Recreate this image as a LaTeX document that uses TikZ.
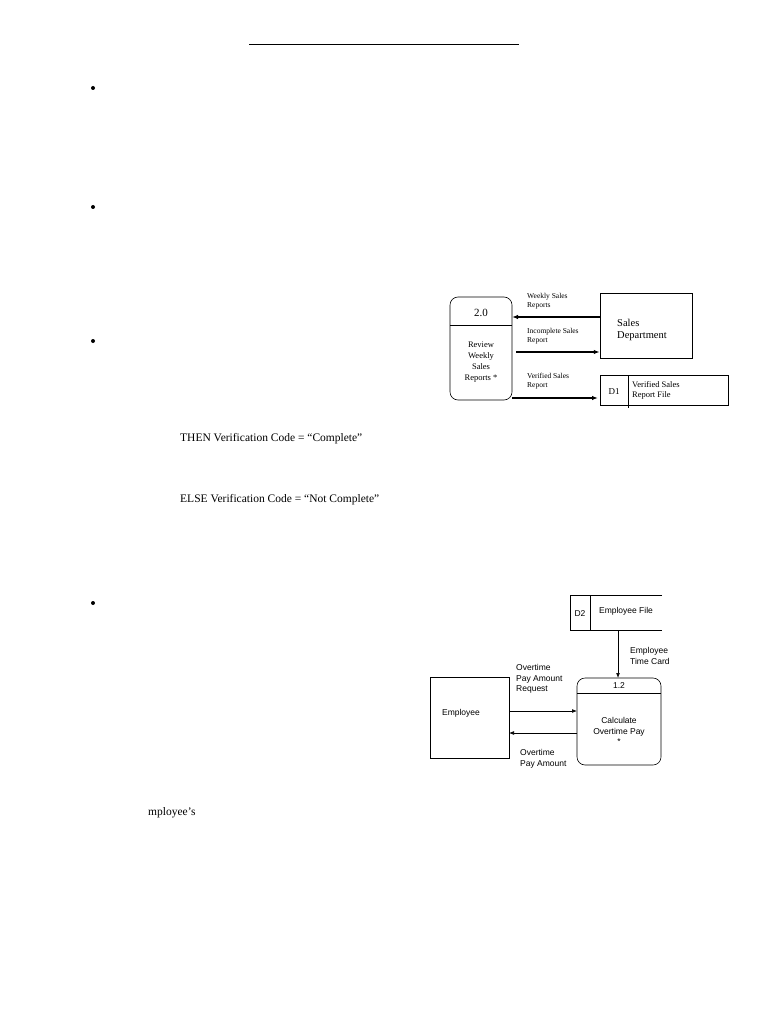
\documentclass[tikz,border=0pt]{standalone}
\usepackage{fontspec}
\setmainfont{Liberation Serif}
\newfontfamily\arialfont{Liberation Sans}
\usetikzlibrary{arrows.meta}
\begin{document}
\begin{tikzpicture}[x=1pt, y=-1pt]
\tikzstyle{proc} = [draw, rounded corners=8pt, line width=0.6pt]
\tikzstyle{entity} = [draw, line width=0.5pt]
\tikzstyle{flow} = [-{Latex[length=6pt]}, line width=1.6pt]
\tikzstyle{thinflow} = [-{Latex[length=5pt]}, line width=0.6pt]
\tikzstyle{lbl} = [font=\fontsize{7.5}{9}\selectfont, align=left, anchor=west, inner sep=0pt]
\tikzstyle{slbl} = [font=\arialfont\fontsize{8.5}{10.5}\selectfont, align=left, anchor=west, inner sep=0pt]
\useasboundingbox (0,0) rectangle (768,1024);
\fill[white] (0,0) rectangle (768,1024);

% page text
\draw[line width=0.8pt] (249,44) -- (519,44);
\foreach \y in {88,207,341,603}
  \fill (93,\y) circle (2pt);
\node[anchor=west, inner sep=0pt, font=\fontsize{11.5}{13}\selectfont] (then) at (180,439) {THEN Verification Code = “Complete”};
\node[anchor=west, inner sep=0pt, font=\fontsize{11.5}{13}\selectfont] (else) at (180,500) {ELSE Verification Code = “Not Complete”};
\node[anchor=west, inner sep=0pt, font=\fontsize{11.5}{13}\selectfont] (emp) at (148,813) {mployee’s};

% sales report diagram
\draw[proc] (450,297) rectangle (512,400);
\draw[line width=0.6pt] (450,325) -- (512,325);
\node[font=\fontsize{11}{12}\selectfont] (p2) at (481,313) {2.0};
\node[font=\fontsize{8.5}{11}\selectfont, align=center] (review) at (481,362) {Review\\Weekly\\Sales\\Reports *};
\node[entity, minimum width=92pt, minimum height=65pt] (sales) at (646,325.5) {};
\node[anchor=west, align=left, font=\fontsize{10.5}{12}\selectfont, inner sep=0pt] at (617,330) {Sales\\Department};
\coordinate (a1) at (512,317);
\coordinate (a2) at (516,352);
\coordinate (a3) at (512,398);
\draw[flow] (sales.west |- a1) -- (a1);
\draw[flow] (a2) -- (sales.west |- a2);
\node[lbl] at (527,301) {Weekly Sales\\Reports};
\node[lbl] at (527,336) {Incomplete Sales\\Report};
\node[lbl] at (527,381) {Verified Sales\\Report};
\draw[entity] (600,375) rectangle (728,405);
\draw[line width=0.8pt] (628,375) -- (628,408);
\node[font=\fontsize{9}{10}\selectfont] (d1) at (614,392) {D1};
\node[lbl, font=\fontsize{8.5}{10}\selectfont] (vfile) at (632,390) {Verified Sales\\Report File};
\coordinate (d1w) at (598,398);
\draw[flow] (a3) -- (d1w);

% overtime diagram
\draw[line width=0.5pt] (662,595) -- (570,595) -- (570,630) -- (662,630);
\draw[line width=0.5pt] (590,595) -- (590,630);
\node[font=\arialfont\fontsize{8.5}{10}\selectfont] (d2) at (580,614) {D2};
\node[font=\arialfont\fontsize{8.5}{10}\selectfont] (efile) at (626,611) {Employee File};
\draw[proc] (577,678) rectangle (661,765);
\draw[line width=0.5pt] (577,693) -- (661,693);
\node[font=\arialfont\fontsize{8.5}{10}\selectfont] (p12) at (619,686) {1.2};
\node[font=\arialfont\fontsize{8.5}{10.5}\selectfont, align=center] (calc) at (619,731) {Calculate\\Overtime Pay\\*};
\draw[entity] (430,677) rectangle (509,758);
\node[font=\arialfont\fontsize{8.5}{10}\selectfont] (employee) at (461,713) {Employee};
\coordinate (d2s) at (618,630);
\coordinate (p12n) at (618,678);
\draw[thinflow] (d2s) -- (p12n);
\node[slbl] at (630,656) {Employee\\Time Card};
\draw[thinflow] (509,711) -- (577,711);
\draw[thinflow] (577,733) -- (509,733);
\node[slbl] at (516,679) {Overtime\\Pay Amount\\Request};
\node[slbl] at (520,759) {Overtime\\Pay Amount};
\end{tikzpicture}
\end{document}
